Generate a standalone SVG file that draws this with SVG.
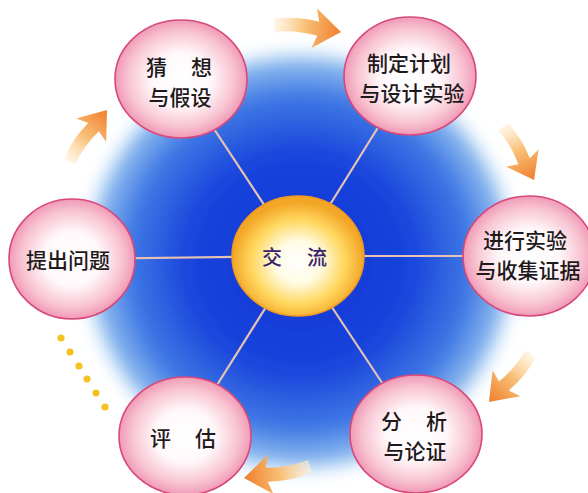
<svg xmlns="http://www.w3.org/2000/svg" width="588" height="493" viewBox="0 0 588 493">
<style>
.node{fill:url(#pink);stroke:#d8487a;stroke-width:1.6}
.t{font-family:"Noto Sans CJK SC","Noto Sans CJK JP",sans-serif;font-size:21px;fill:#1e1a1c;font-weight:500}
.tm{text-anchor:middle}
.spoke{stroke:#e6c2b4;stroke-width:2.2}
.dot{fill:#f5c223}
</style>
<defs>
<radialGradient id="pink" cx="50%" cy="50%" r="50%">
<stop offset="0" stop-color="#ffffff"/>
<stop offset="0.45" stop-color="#fff8fa"/>
<stop offset="0.8" stop-color="#f8c4d2"/>
<stop offset="1" stop-color="#f09ab6"/>
</radialGradient>
<radialGradient id="sun" cx="50%" cy="55%" r="50%">
<stop offset="0" stop-color="#ffffff"/>
<stop offset="0.35" stop-color="#fffbe4"/>
<stop offset="0.7" stop-color="#ffd860"/>
<stop offset="1" stop-color="#f3a526"/>
</radialGradient>
<radialGradient id="blue" cx="50%" cy="50%" r="50%">
<stop offset="0" stop-color="#1233d4"/>
<stop offset="0.5" stop-color="#1a45dc"/>
<stop offset="0.75" stop-color="#3f78e4"/>
<stop offset="0.9" stop-color="#8ab8ee"/>
<stop offset="1" stop-color="#d6ecfa" stop-opacity="0"/>
</radialGradient>
<filter id="soft" x="-20%" y="-20%" width="140%" height="140%">
<feGaussianBlur stdDeviation="6"/>
</filter>
<linearGradient id="org" gradientUnits="userSpaceOnUse" x1="-68" y1="0" x2="0" y2="0">
<stop offset="0" stop-color="#fff1d8" stop-opacity="0.6"/>
<stop offset="0.45" stop-color="#f9c27a"/>
<stop offset="1" stop-color="#f07e2c"/>
</linearGradient>
<path id="arr" d="M0,0 L-27,-20 L-23,-7 Q-45,-10 -68,-4 L-66,9 Q-45,4 -23,7 L-27,20 Z" fill="url(#org)"/>
</defs>
<rect width="588" height="493" fill="#ffffff"/>
<ellipse cx="300" cy="262" rx="226" ry="220" fill="url(#blue)" filter="url(#soft)"/>
<g id="connectors">
<line class="spoke" x1="298" y1="256" x2="181" y2="79"/>
<line class="spoke" x1="298" y1="256" x2="410" y2="76"/>
<line class="spoke" x1="298" y1="256" x2="529" y2="256"/>
<line class="spoke" x1="298" y1="256" x2="72" y2="259"/>
<line class="spoke" x1="298" y1="256" x2="185" y2="436"/>
<line class="spoke" x1="298" y1="256" x2="416" y2="434"/>
<use href="#arr" transform="translate(341,32) rotate(8)"/>
<use href="#arr" transform="translate(534,180) rotate(62) scale(0.92)"/>
<use href="#arr" transform="translate(489,402) rotate(133) scale(0.95)"/>
<use href="#arr" transform="translate(244,478) rotate(172)"/>
<use href="#arr" transform="translate(107,110) rotate(-52) scale(0.95)"/>
<circle class="dot" cx="61" cy="338" r="3.6"/>
<circle class="dot" cx="70" cy="352" r="3.6"/>
<circle class="dot" cx="79" cy="366" r="3.6"/>
<circle class="dot" cx="87" cy="379" r="3.6"/>
<circle class="dot" cx="96" cy="393" r="3.6"/>
<circle class="dot" cx="105" cy="407" r="3.6"/>
</g>
<g id="n-guess">
<ellipse class="node" cx="181" cy="79" rx="66" ry="59"/>
<text class="t" x="146 191" y="75">猜想</text>
<text class="t tm" x="180" y="105">与假设</text>
</g>
<g id="n-plan">
<ellipse class="node" cx="410" cy="76" rx="66" ry="59"/>
<text class="t tm" x="409" y="71">制定计划</text>
<text class="t tm" x="412" y="101">与设计实验</text>
</g>
<g id="n-experiment">
<ellipse class="node" cx="529" cy="256" rx="66" ry="60"/>
<text class="t tm" x="525" y="248">进行实验</text>
<text class="t tm" x="528" y="278">与收集证据</text>
</g>
<g id="n-question">
<ellipse class="node" cx="72" cy="259" rx="63" ry="60"/>
<text class="t tm" x="68" y="268">提出问题</text>
</g>
<g id="n-evaluate">
<ellipse class="node" cx="185" cy="436" rx="66" ry="59"/>
<text class="t" x="150 195" y="446">评估</text>
</g>
<g id="n-analyze">
<ellipse class="node" cx="416" cy="434" rx="66" ry="59"/>
<text class="t" x="381 426" y="429">分析</text>
<text class="t tm" x="415" y="459">与论证</text>
</g>
<g id="n-communicate">
<ellipse cx="298" cy="256" rx="66" ry="60" fill="url(#sun)" stroke="#ee9a22" stroke-width="1.5"/>
<text class="t" x="262 307" y="265" style="fill:#3a2468;font-size:20px">交流</text>
</g>
</svg>
